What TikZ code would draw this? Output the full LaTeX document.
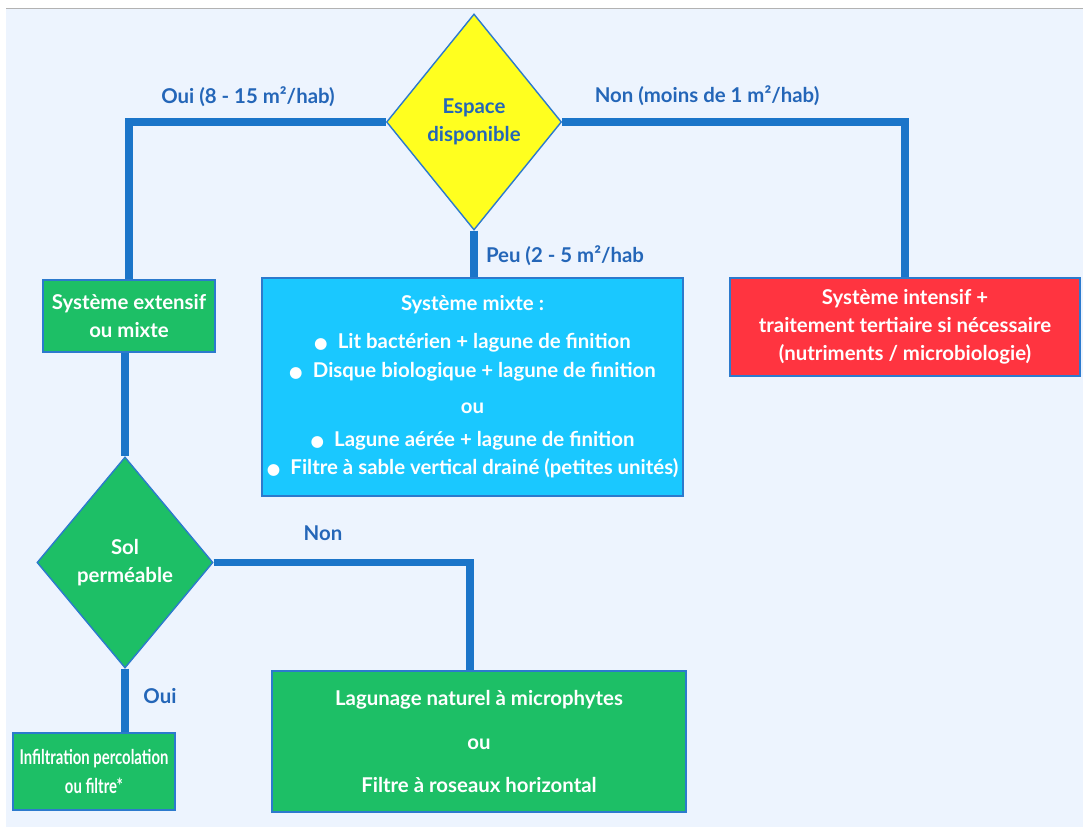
\documentclass[tikz,border=0pt]{standalone}
\usepackage{fontspec}
\setmainfont{Lato}
\newfontfamily\narrowfont{Lato}[FakeStretch=0.73]
\newfontfamily\symfont{DejaVu Sans}
\usepackage{tikz}
\usetikzlibrary{shapes.geometric, positioning, calc, backgrounds}

\definecolor{bgblue}{HTML}{EDF4FE}
\definecolor{linkblue}{HTML}{1B75C9}
\definecolor{edgeblue}{HTML}{2C7ACD}
\definecolor{lblblue}{HTML}{2466B8}
\definecolor{qyellow}{HTML}{FFFF1F}
\definecolor{boxgreen}{HTML}{1DBF66}
\definecolor{boxcyan}{HTML}{1AC8FF}
\definecolor{boxred}{HTML}{FF3440}

\newcommand{\puce}{{\symfont\fontsize{11}{11}\selectfont ●}\enspace}

\begin{document}
\begin{tikzpicture}[
  x=0.025cm, y=-0.025cm,
  font=\fontsize{14.5}{20}\selectfont\bfseries,
  choice/.style = {diamond, draw=edgeblue, line width=1pt, inner sep=0pt,
                   align=center, text=white},
  sysbox/.style = {rectangle, draw=edgeblue, line width=1.2pt, align=center,
                   text=white, inner sep=0pt},
  lbl/.style    = {text=lblblue},
  link/.style   = {draw=linkblue, line width=5.6pt, line join=miter}
]
  \useasboundingbox (0,0) rectangle (1083,827);

  % questions
  \node[choice, fill=qyellow, text=lblblue, minimum width=4.375cm, minimum height=5.4cm]
        (espace) at (474,122) {Espace\\disponible};
  \node[choice, fill=boxgreen, minimum width=4.4cm, minimum height=5.275cm]
        (sol) at (125,562.5) {Sol\\perméable};

  % systems
  \node[sysbox, fill=boxgreen, minimum width=4.3cm, minimum height=1.8cm]
        (extensif) at (129,316) {Système extensif\\ou mixte};
  \node[sysbox, fill=boxcyan, minimum width=10.525cm, minimum height=5.45cm]
        (mixte) at (472.5,387) {Système mixte :\\[7pt]
        \puce Lit bactérien + lagune de finition\\
        \puce Disque biologique + lagune de finition\\[6pt]
        ou\\[3.5pt]
        \puce Lagune aérée + lagune de finition\\
        \puce Filtre à sable vertical drainé (petites unités)};
  \node[sysbox, fill=boxred, minimum width=8.75cm, minimum height=2.45cm]
        (intensif) at (905,327) {Système intensif +\\
        traitement tertiaire si nécessaire\\(nutriments / microbiologie)};
  \node[sysbox, fill=boxgreen, minimum width=4.05cm, minimum height=1.925cm,
        font=\fontsize{14.5}{20}\narrowfont\bfseries]
        (infiltration) at (94,771.5) {Infiltration percolation\\ou filtre*};
  \node[sysbox, fill=boxgreen, minimum width=10.35cm, minimum height=3.525cm]
        (lagunage) at (479,741.5) {Lagunage naturel à microphytes\\[11pt]
        ou\\[11pt]Filtre à roseaux horizontal};

  % labels
  \node[lbl] (oui1) at (248,97) {Oui (8 - 15 m²/hab)};
  \node[lbl] (non1) at (707,96) {Non (moins de 1 m²/hab)};
  \node[lbl] (peu) at (565,256) {Peu (2 - 5 m²/hab};
  \node[lbl] (non2) at (323,533) {Non};
  \node[lbl] (oui2) at (160,696) {Oui};

  \begin{scope}[on background layer]
    % background
    \fill[white] (0,0) rectangle (1083,827);
    \fill[bgblue] (6,9) rectangle (1083,827);
    \draw[gray!60, line width=1pt] (6,8.5) -- (1083,8.5);
    % links
    \draw[link] (espace.west) -| (extensif.north);
    \draw[link] (espace.east) -| (intensif.north);
    \draw[link] (espace.south) -- (espace.south |- mixte.north);
    \draw[link] (extensif.south -| sol.north) -- (sol.north);
    \draw[link] (sol.east) -| ([xshift=-0.225cm]lagunage.north);
    \draw[link] (sol.south) -- (sol.south |- infiltration.north);
  \end{scope}
\end{tikzpicture}
\end{document}
